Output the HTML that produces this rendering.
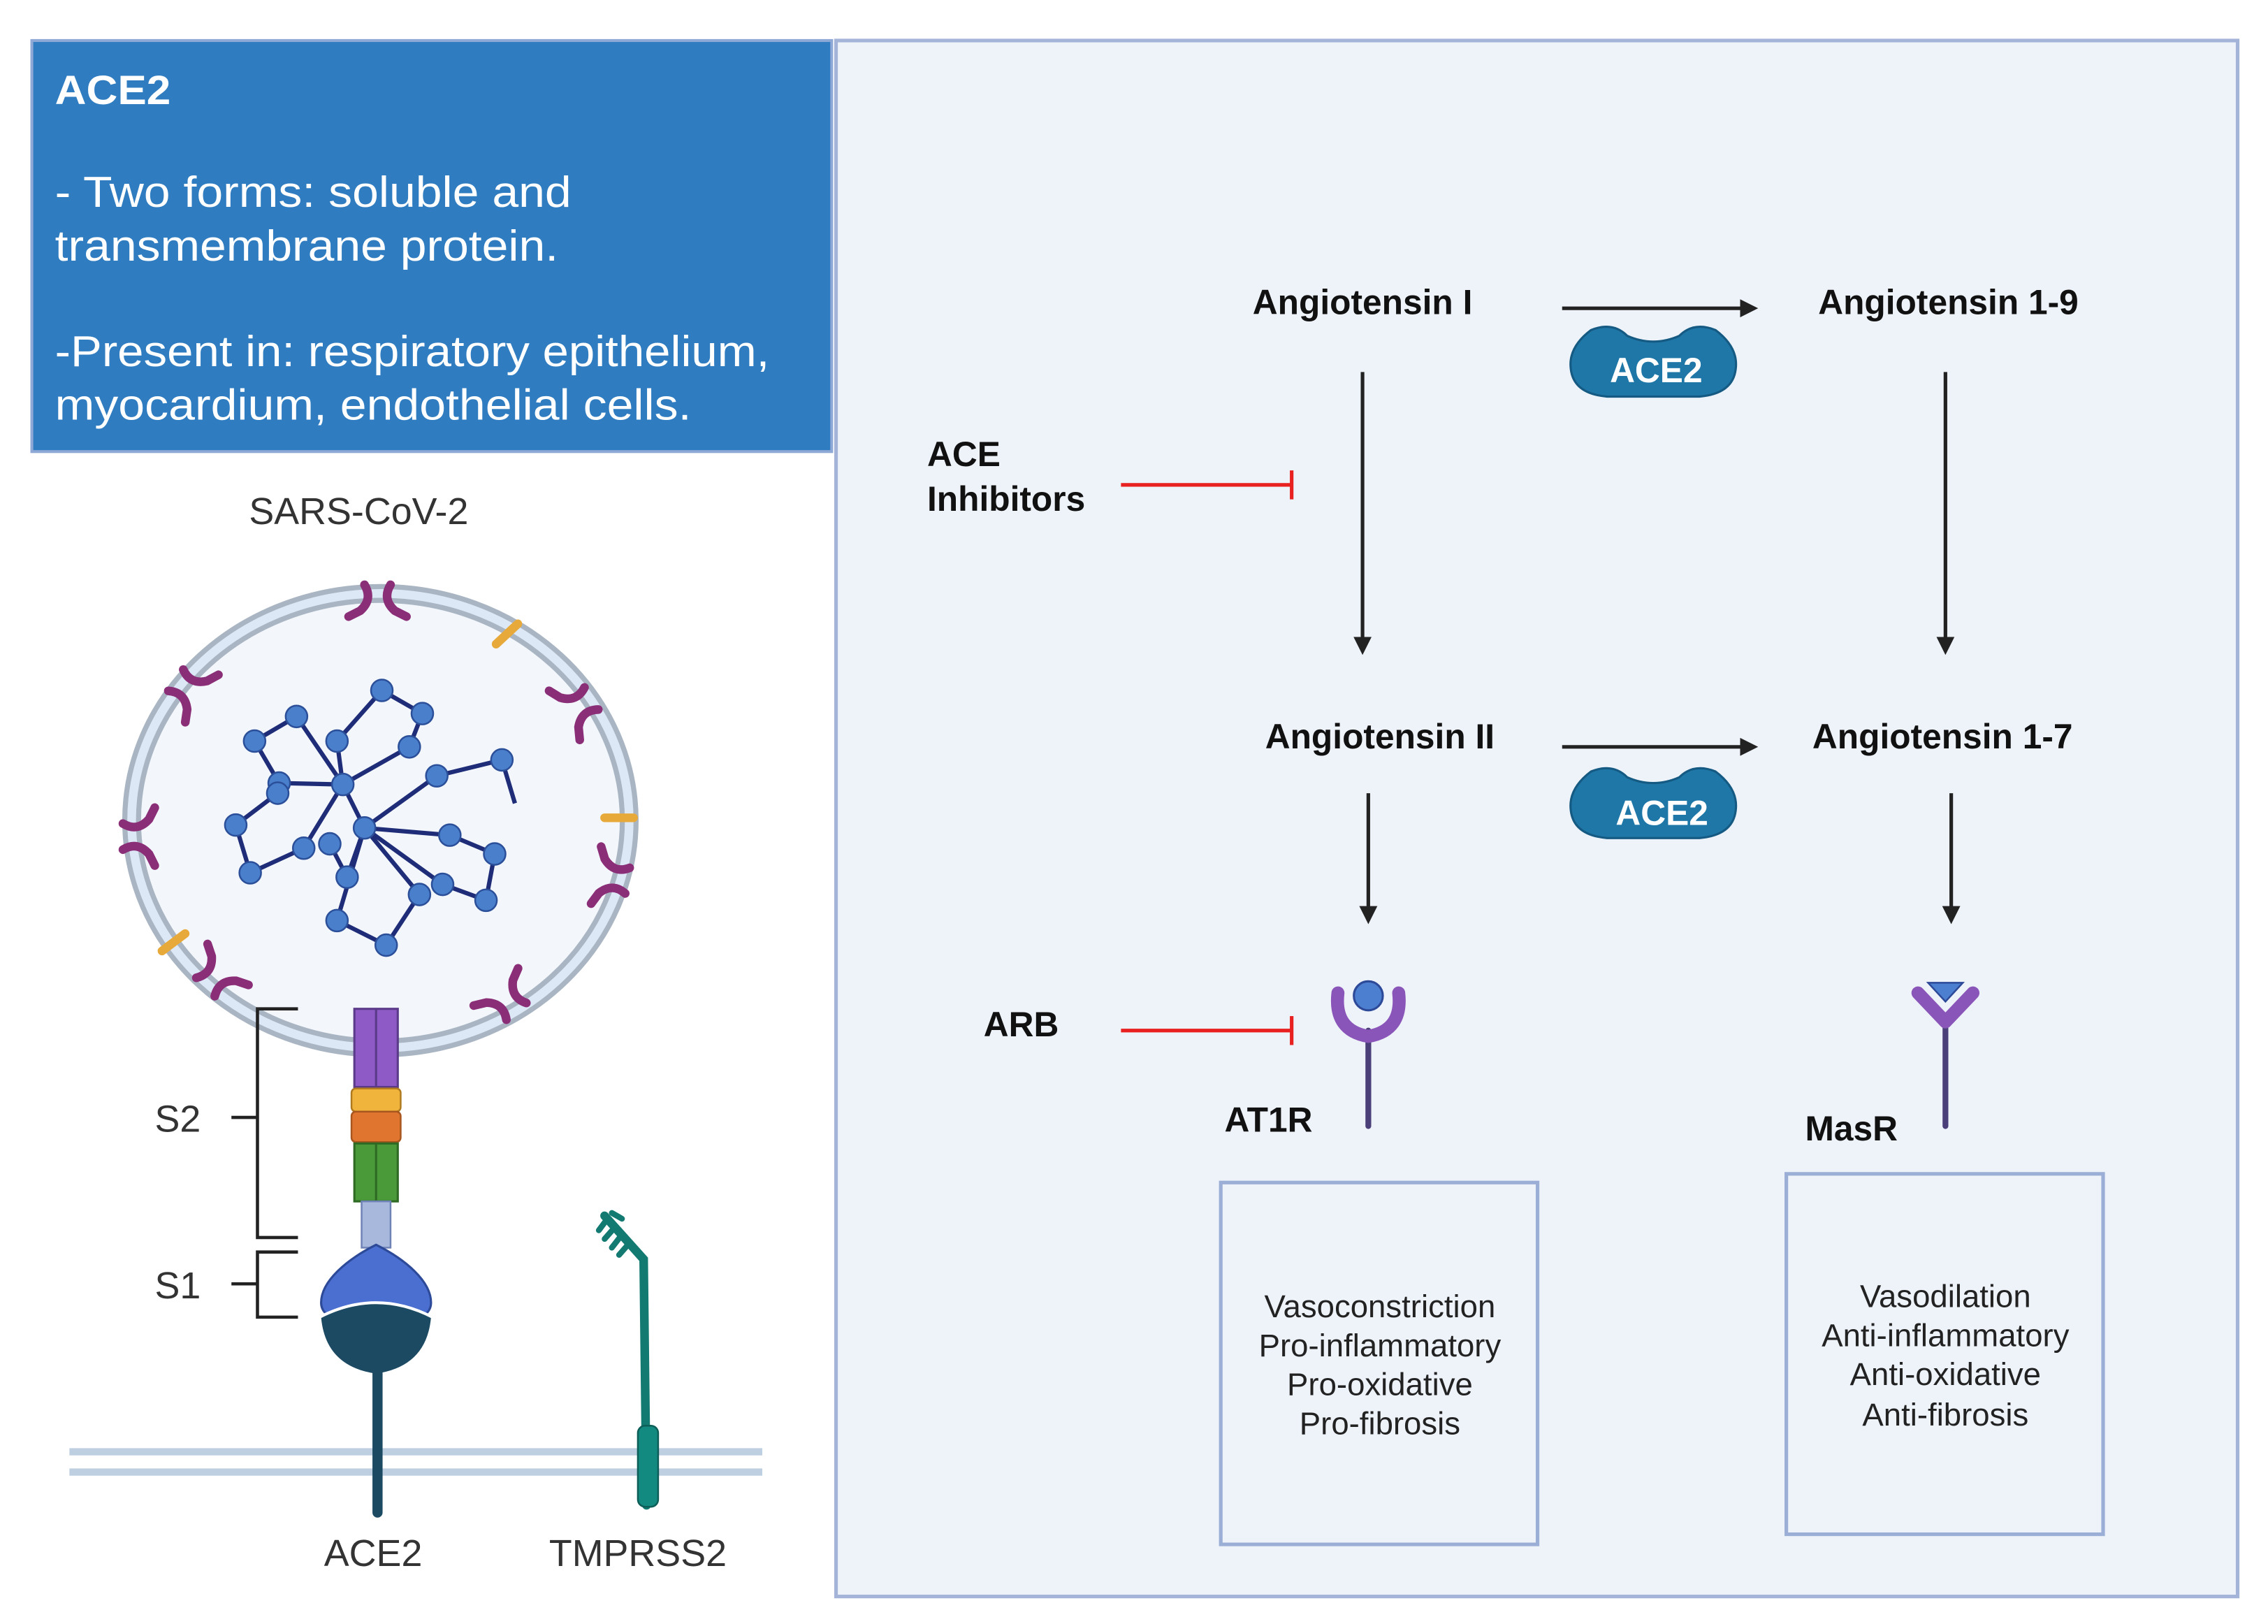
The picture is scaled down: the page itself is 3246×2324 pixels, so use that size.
<!DOCTYPE html>
<html><head><meta charset="utf-8"><style>
html,body{margin:0;padding:0;background:#fff;}
svg{display:block;}
text{font-family:"Liberation Sans",sans-serif;}
</style></head><body>
<svg width="3246" height="2324" viewBox="0 0 1568 1122" preserveAspectRatio="none" xmlns="http://www.w3.org/2000/svg">
<defs>
<marker id="ah" viewBox="0 0 10 10" refX="8" refY="5" markerWidth="5" markerHeight="5" orient="auto"><path d="M0,0 L10,5 L0,10 z" fill="#222"/></marker>
<g id="sp"><path d="M-9,-14 Q-3,-4 -12,4 L-20,8" fill="none" stroke="#8b2e78" stroke-width="6" stroke-linecap="round"/><path d="M9,-14 Q3,-4 12,4 L20,8" fill="none" stroke="#8b2e78" stroke-width="6" stroke-linecap="round"/></g>
</defs>
<rect x="0" y="0" width="1568" height="1122" fill="#fff"/>
<!-- right panel -->
<rect x="578" y="28" width="969" height="1075" fill="#eef3fa" stroke="#a3b4d8" stroke-width="2.5"/>
<!-- blue box -->
<rect x="22" y="28" width="553" height="284" fill="#2f7cc0" stroke="#8fa9d6" stroke-width="2"/>
<text x="38" y="72" font-size="28" font-weight="bold" fill="#fff" textLength="80" lengthAdjust="spacingAndGlyphs">ACE2</text>
<text x="38" y="143" font-size="30" fill="#fff" textLength="357" lengthAdjust="spacingAndGlyphs">- Two forms: soluble and</text>
<text x="38" y="180" font-size="30" fill="#fff" textLength="348" lengthAdjust="spacingAndGlyphs">transmembrane protein.</text>
<text x="38" y="253" font-size="30" fill="#fff" textLength="494" lengthAdjust="spacingAndGlyphs">-Present in: respiratory epithelium,</text>
<text x="38" y="290" font-size="30" fill="#fff" textLength="440" lengthAdjust="spacingAndGlyphs">myocardium, endothelial cells.</text>

<!-- left illustration -->
<text x="248" y="362" font-size="26" fill="#333" text-anchor="middle">SARS-CoV-2</text>
<ellipse cx="263" cy="567" rx="172" ry="157" fill="#f3f7fc" stroke="#a9b5c2" stroke-width="13"/>
<ellipse cx="263" cy="567" rx="172" ry="157" fill="none" stroke="#dce8f5" stroke-width="6"/>
<!-- genome -->
<g fill="none" stroke="#1f2d78" stroke-width="3">
<path d="M237,542 L205,495 L176,512 L193,541 L237,542 L233,512 L264,477 L292,493 L283,516 L237,542"/>
<path d="M237,542 L210,586 L173,603 L163,570 L192,548"/>
<path d="M252,572 L233,636 L267,653 L290,618 L252,572"/>
<path d="M252,572 L302,536 L347,525 L356,555"/>
<path d="M252,572 L311,577 L342,590 L336,622 L306,611 L252,572"/>
<path d="M237,542 L252,572 L240,606 L228,583"/>
</g>
<g fill="#4a7fcc" stroke="#2b4f99" stroke-width="1.2">
<circle cx="205" cy="495" r="7.5"/><circle cx="176" cy="512" r="7.5"/><circle cx="193" cy="541" r="7.5"/><circle cx="237" cy="542" r="7.5"/><circle cx="233" cy="512" r="7.5"/><circle cx="264" cy="477" r="7.5"/><circle cx="292" cy="493" r="7.5"/><circle cx="283" cy="516" r="7.5"/>
<circle cx="210" cy="586" r="7.5"/><circle cx="173" cy="603" r="7.5"/><circle cx="163" cy="570" r="7.5"/><circle cx="192" cy="548" r="7.5"/>
<circle cx="233" cy="636" r="7.5"/><circle cx="267" cy="653" r="7.5"/><circle cx="290" cy="618" r="7.5"/><circle cx="252" cy="572" r="7.5"/>
<circle cx="302" cy="536" r="7.5"/><circle cx="347" cy="525" r="7.5"/><circle cx="311" cy="577" r="7.5"/><circle cx="342" cy="590" r="7.5"/><circle cx="336" cy="622" r="7.5"/><circle cx="306" cy="611" r="7.5"/><circle cx="240" cy="606" r="7.5"/><circle cx="228" cy="583" r="7.5"/>
</g>
<!-- spikes on ring -->
<use href="#sp" transform="translate(261,418)"/>
<use href="#sp" transform="translate(133,478) rotate(-55)"/>
<use href="#sp" transform="translate(99,578) rotate(-90)"/>
<use href="#sp" transform="translate(152,672) rotate(-135)"/>
<use href="#sp" transform="translate(348,688) rotate(140)"/>
<use href="#sp" transform="translate(420,606) rotate(100)"/>
<use href="#sp" transform="translate(397,490) rotate(58)"/>
<g stroke="#e7a93a" stroke-width="6" stroke-linecap="round">
<line x1="343" y1="445" x2="358" y2="431"/><line x1="418" y1="565" x2="438" y2="565"/><line x1="112" y1="657" x2="128" y2="645"/>
</g>
<!-- membrane -->
<line x1="48" y1="1003" x2="527" y2="1003" stroke="#bdcfe0" stroke-width="5"/>
<line x1="48" y1="1017" x2="527" y2="1017" stroke="#bdcfe0" stroke-width="5"/>
<!-- spike protein -->
<rect x="245" y="697" width="30" height="54" fill="#8e5ac6" stroke="#5b3a8a" stroke-width="1.5"/>
<line x1="260" y1="697" x2="260" y2="751" stroke="#5b3a8a" stroke-width="1.5"/>
<rect x="243" y="752" width="34" height="16" rx="3" fill="#f0b43c" stroke="#b07a1e" stroke-width="1.2"/>
<rect x="243" y="768" width="34" height="21" rx="3" fill="#e07530" stroke="#a8551e" stroke-width="1.2"/>
<rect x="245" y="790" width="30" height="40" fill="#4b9a3a" stroke="#2f6a25" stroke-width="1.5"/>
<line x1="260" y1="790" x2="260" y2="830" stroke="#2f6a25" stroke-width="1.5"/>
<rect x="250" y="830" width="20" height="32" fill="#a8b8dc" stroke="#6f82b5" stroke-width="1.2"/>
<path d="M260,860 C240,870 222,885 222,900 C222,912 240,915 260,912 C280,915 298,912 298,900 C298,885 280,870 260,860 z" fill="#4a6fd0" stroke="#2d4a99" stroke-width="1.5"/>
<path d="M221,910 Q260,890 299,910 Q296,945 260,950 Q224,945 221,910 z" fill="#1c4a63" stroke="#fff" stroke-width="2"/>
<line x1="261" y1="948" x2="261" y2="1045" stroke="#1c4a63" stroke-width="7" stroke-linecap="round"/>
<!-- brackets -->
<g fill="none" stroke="#222" stroke-width="2.2">
<path d="M206,697 L178,697 L178,855 L206,855"/><line x1="160" y1="772" x2="178" y2="772"/>
<path d="M206,865 L178,865 L178,910 L206,910"/><line x1="160" y1="887" x2="178" y2="887"/>
</g>
<text x="107" y="782" font-size="26" fill="#333">S2</text>
<text x="107" y="897" font-size="26" fill="#333">S1</text>
<!-- TMPRSS2 -->
<path d="M418,840 L445,870 L447,1040" fill="none" stroke="#137a72" stroke-width="6" stroke-linecap="round"/>
<g stroke="#137a72" stroke-width="4" stroke-linecap="round">
<line x1="420" y1="842" x2="414" y2="850"/><line x1="425" y1="848" x2="418" y2="856"/><line x1="430" y1="853" x2="423" y2="862"/><line x1="435" y1="859" x2="428" y2="867"/><line x1="423" y1="838" x2="430" y2="842"/>
</g>
<rect x="441" y="985" width="14" height="56" rx="5" fill="#138a80" stroke="#0d5e58" stroke-width="1.2"/>
<text x="258" y="1082" font-size="26" fill="#333" text-anchor="middle">ACE2</text>
<text x="441" y="1082" font-size="26" fill="#333" text-anchor="middle">TMPRSS2</text>

<!-- right pathway -->
<g font-size="24" font-weight="bold" fill="#111" text-anchor="middle">
<text x="942" y="217">Angiotensin I</text>
<text x="1347" y="217">Angiotensin 1-9</text>
<text x="954" y="517">Angiotensin II</text>
<text x="1343" y="517">Angiotensin 1-7</text>
<text x="877" y="782">AT1R</text>
<text x="1280" y="788">MasR</text>
</g>
<g font-size="24" font-weight="bold" fill="#111">
<text x="641" y="322">ACE</text><text x="641" y="353">Inhibitors</text>
<text x="680" y="716">ARB</text>
</g>
<g stroke="#222" stroke-width="2.5" marker-end="url(#ah)">
<line x1="1080" y1="213" x2="1213" y2="213"/>
<line x1="1080" y1="516" x2="1213" y2="516"/>
<line x1="942" y1="257" x2="942" y2="450"/>
<line x1="1345" y1="257" x2="1345" y2="450"/>
<line x1="946" y1="548" x2="946" y2="636"/>
<line x1="1349" y1="548" x2="1349" y2="636"/>
</g>
<g stroke="#e8201f" stroke-width="2.5">
<line x1="775" y1="335" x2="893" y2="335"/><line x1="893" y1="325" x2="893" y2="345"/>
<line x1="775" y1="712" x2="893" y2="712"/><line x1="893" y1="702" x2="893" y2="722"/>
</g>
<!-- ACE2 pills -->
<g fill="#1f77a8" stroke="#155a82" stroke-width="1.5">
<path d="M1100,228 Q1115,222 1125,232 Q1143,240 1161,232 Q1171,222 1186,228 Q1202,240 1200,255 Q1198,272 1175,274 L1111,274 Q1088,272 1086,255 Q1084,240 1100,228 z"/>
<path d="M1100,533 Q1115,527 1125,537 Q1143,545 1161,537 Q1171,527 1186,533 Q1202,545 1200,560 Q1198,577 1175,579 L1111,579 Q1088,577 1086,560 Q1084,545 1100,533 z"/>
</g>
<g font-size="24" font-weight="bold" fill="#fff" text-anchor="middle">
<text x="1145" y="264">ACE2</text><text x="1149" y="570">ACE2</text>
</g>
<!-- receptors -->
<line x1="946" y1="712" x2="946" y2="778" stroke="#4b3f7a" stroke-width="4" stroke-linecap="round"/>
<path d="M925,686 Q922,712 946,716 Q970,712 967,686" fill="none" stroke="#8a55b8" stroke-width="9" stroke-linecap="round"/>
<circle cx="946" cy="688" r="10" fill="#4d7fd0" stroke="#2d4a99" stroke-width="1.5"/>
<line x1="1345" y1="702" x2="1345" y2="778" stroke="#4b3f7a" stroke-width="4" stroke-linecap="round"/>
<path d="M1326,686 L1345,706 L1364,686" fill="none" stroke="#8a55b8" stroke-width="9" stroke-linecap="round" stroke-linejoin="round"/>
<path d="M1333,679 L1357,679 L1345,692 z" fill="#4d7fd0" stroke="#2d4a99" stroke-width="1.2"/>
<!-- outcome boxes -->
<rect x="844" y="817" width="219" height="250" fill="#eef3fa" stroke="#9aaed6" stroke-width="2.5"/>
<rect x="1235" y="811" width="219" height="249" fill="#eef3fa" stroke="#9aaed6" stroke-width="2.5"/>
<g font-size="22" fill="#222" text-anchor="middle">
<text x="954" y="910">Vasoconstriction</text><text x="954" y="937">Pro-inflammatory</text><text x="954" y="964">Pro-oxidative</text><text x="954" y="991">Pro-fibrosis</text>
<text x="1345" y="903">Vasodilation</text><text x="1345" y="930">Anti-inflammatory</text><text x="1345" y="957">Anti-oxidative</text><text x="1345" y="985">Anti-fibrosis</text>
</g>
</svg>
</body></html>
